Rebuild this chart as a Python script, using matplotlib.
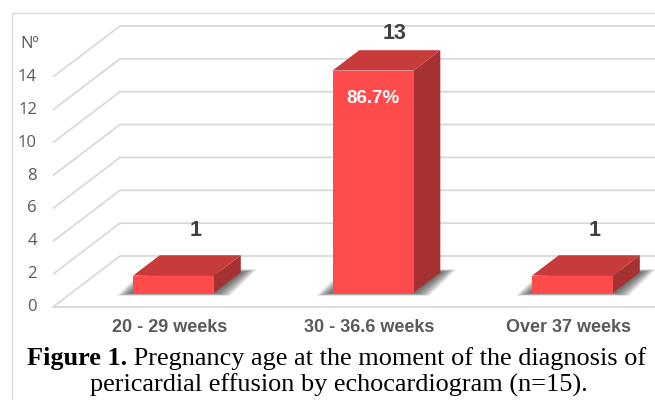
import numpy as np
import matplotlib.pyplot as plt
from matplotlib.patches import Polygon, Rectangle

# data
CATEGORIES = ["20 - 29 weeks", "30 - 36.6 weeks", "Over 37 weeks"]
COUNTS = [1, 13, 1]
PCT_LABELS = ["", "86.7%", ""]
YTICKS = [0, 2, 4, 6, 8, 10, 12, 14]
YLABEL = "Nº"
CAPTION_BOLD = "Figure 1."
CAPTION_1 = " Pregnancy age at the moment of the diagnosis of"
CAPTION_2 = "pericardial effusion by echocardiogram (n=15)."

W, H = 655, 400
DPI = 100

# pixel layout of the original
PX_CAT = 199.5      # px between categories
PX_VAL = 16.43      # px per unit on the front plane
X0_PX = 173.5       # front face centre of first bar
Y0_PX = 307         # value 0 at the front edge of the floor (from top)

DX = 67 / PX_CAT    # full floor depth, as data offset
DY = 51 / PX_VAL
D0, D1 = 0.28, 0.68 # bar front / back depth
HW = 40.5 / PX_CAT  # half bar width
BAR_SCALE = 1.04    # bars come out a bit taller than the wall grid
WALL_X = (53 - X0_PX) / PX_CAT
X_END = 3.0

FRONT = "#FF4B4B"
TOP = "#C83B3B"
SIDE = "#A53131"
GRID = "#D9D9D9"
TXT = "#595959"
LBL = "#404040"


def proj(x, h, d):
    # oblique projection, x given at the bar front plane
    return (x + (d - D0) * DX, h + d * DY)


fig = plt.figure(figsize=(W / DPI, H / DPI), dpi=DPI)
ax = fig.add_axes([0, 0, 1, 1])
ax.set_xlim(-X0_PX / PX_CAT, (W - X0_PX) / PX_CAT)
ax.set_ylim(-(H - Y0_PX) / PX_VAL, Y0_PX / PX_VAL)
ax.axis('off')

# chart border (right and bottom sides fall outside the picture)
ax.add_patch(Rectangle((12 / W, -0.2), 1.5, 1.2 - 13 / H, transform=ax.transAxes,
                       fill=False, edgecolor=GRID, lw=1.0))

# wall + floor grid
for v in YTICKS:
    ax.plot([WALL_X, WALL_X + DX, X_END], [v, v + DY, v + DY], color=GRID, lw=1.3,
            solid_capstyle='butt')
ax.plot([WALL_X, X_END], [0, 0], color=GRID, lw=1.3)

tick_x = (37 - X0_PX) / PX_CAT
for v in YTICKS:
    ax.text(tick_x, v, str(v), ha='right', va='center', color=TXT,
            fontfamily='Open Sans', fontsize=12)
ax.text(tick_x + 2 / PX_CAT, YTICKS[-1] + 2, YLABEL, ha='right', va='center',
        color=TXT, fontfamily='Open Sans', fontsize=12)

for i, (cnt, pct, cat) in enumerate(zip(COUNTS, PCT_LABELS, CATEGORIES)):
    hgt = cnt * BAR_SCALE
    l, r = i - HW, i + HW

    # soft shadow on the floor
    n = 12
    for k in range(n):
        e = (16 / PX_CAT) * (1 - k / n)
        ey = (3 / PX_VAL) * (1 - k / n)
        pts = [proj(l - e, -ey, D0), proj(r + e, -ey, D0),
               proj(r + e, ey, D1), proj(l - e, ey, D1)]
        ax.add_patch(Polygon(pts, closed=True, facecolor='#303030',
                             edgecolor='none', alpha=0.09, zorder=2))

    front = [proj(l, 0, D0), proj(r, 0, D0), proj(r, hgt, D0), proj(l, hgt, D0)]
    top = [proj(l, hgt, D0), proj(r, hgt, D0), proj(r, hgt, D1), proj(l, hgt, D1)]
    side = [proj(r, 0, D0), proj(r, 0, D1), proj(r, hgt, D1), proj(r, hgt, D0)]
    ax.add_patch(Polygon(side, closed=True, facecolor=SIDE, edgecolor='none', zorder=3))
    ax.add_patch(Polygon(top, closed=True, facecolor=TOP, edgecolor='none', zorder=3))
    ax.add_patch(Polygon(front, closed=True, facecolor=FRONT, edgecolor='none', zorder=4))

    ax.text(i + 0.11, cnt + 3.65, str(cnt), ha='center', va='center', color=LBL,
            fontfamily='Liberation Sans', fontweight='bold', fontsize=15.5, zorder=5)
    if pct:
        ax.text(i, cnt - 0.3, pct, ha='center', va='center', color='white',
                fontfamily='Liberation Sans', fontweight='bold', fontsize=13.5, zorder=5)
    ax.text(i - 0.02, -1.22, cat, ha='center', va='center', color=TXT,
            fontfamily='Liberation Sans', fontweight='bold', fontsize=13)

# caption, fitted to the width it has in the original
fs = 15
t1 = fig.text(0, 0, CAPTION_BOLD, fontfamily='Liberation Serif', fontweight='bold',
              fontsize=fs, va='baseline', ha='left')
t2 = fig.text(0, 0, CAPTION_1, fontfamily='Liberation Serif', fontsize=fs,
              va='baseline', ha='left')
t3 = fig.text(0, 0, CAPTION_2, fontfamily='Liberation Serif', fontsize=fs,
              va='baseline', ha='center')
fig.canvas.draw()
rend = fig.canvas.get_renderer()
w_all = t1.get_window_extent(rend).width + t2.get_window_extent(rend).width
fs = fs * (650 - 27) / w_all
for t in (t1, t2, t3):
    t.set_fontsize(fs)
fig.canvas.draw()
w1 = t1.get_window_extent(rend).width
t1.set_position((27 / W, 1 - 365 / H))
t2.set_position(((27 + w1) / W, 1 - 365 / H))
t3.set_position((338.5 / W, 1 - 392 / H))

fig.savefig('out.png', dpi=DPI)
